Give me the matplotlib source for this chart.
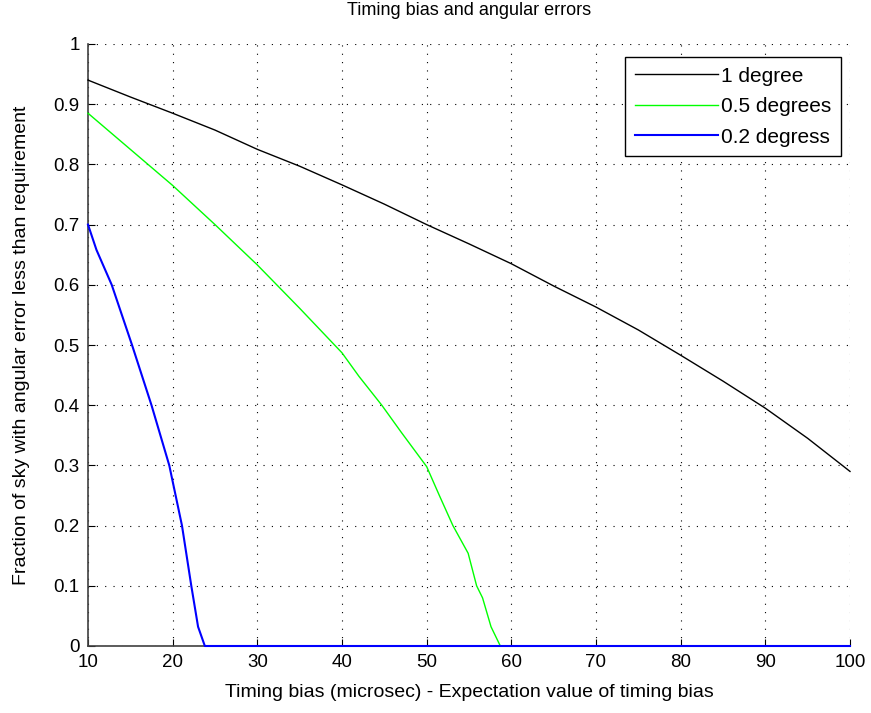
import matplotlib
matplotlib.use("Agg")
import matplotlib.pyplot as plt

plt.rcParams['font.family'] = ['Liberation Sans', 'DejaVu Sans']

# values
x_1deg = [10, 15, 20, 25, 30, 35, 40, 45, 50, 55, 60, 65, 70, 75, 80, 85, 90, 95, 100]
y_1deg = [0.94, 0.912, 0.885, 0.857, 0.825, 0.797, 0.766, 0.734, 0.70, 0.668,
          0.635, 0.598, 0.563, 0.525, 0.483, 0.44, 0.395, 0.345, 0.29]

x_05deg = [10, 15, 20, 25, 30, 35, 40, 42, 44.7, 47, 50, 51.5, 53.1, 54.9,
           55.9, 56.6, 57.6, 58.7, 100]
y_05deg = [0.885, 0.825, 0.765, 0.70, 0.633, 0.561, 0.487, 0.448, 0.40, 0.355,
           0.298, 0.25, 0.20, 0.154, 0.10, 0.08, 0.032, 0.0, 0.0]

x_02deg = [10, 11, 12.8, 15.2, 17.5, 19.6, 21.1, 22.2, 23.0, 23.8, 100]
y_02deg = [0.70, 0.658, 0.60, 0.50, 0.40, 0.30, 0.20, 0.10, 0.032, 0.0, 0.0]

labels = ['1 degree', '0.5 degrees', '0.2 degress']
xticks = list(range(10, 101, 10))
yticks = [i / 10 for i in range(11)]
ytick_labels = ['0', '0.1', '0.2', '0.3', '0.4', '0.5', '0.6', '0.7', '0.8', '0.9', '1']

fig = plt.figure(figsize=(8.71, 7.13), dpi=100)
ax = fig.add_axes([88 / 871, 1 - 646 / 713, 762 / 871, 602 / 713])

ax.plot(x_1deg, y_1deg, color='black', lw=1.0, label=labels[0], zorder=3, clip_on=False)
ax.plot(x_05deg, y_05deg, color='#00ff00', lw=1.0, label=labels[1], zorder=3, clip_on=False)
ax.plot(x_02deg, y_02deg, color='#0000ff', lw=1.5, label=labels[2], zorder=3, clip_on=False)

ax.set_xlim(10, 100)
ax.set_ylim(0, 1)
ax.set_xticks(xticks)
ax.set_yticks(yticks)
ax.set_yticklabels(ytick_labels)
ax.tick_params(direction='in', length=5, labelsize=13.5, colors='black')
ax.tick_params(axis='x', pad=6)
ax.tick_params(axis='y', pad=6)

ax.grid(True, color='black', linestyle=(0, (1, 6.5)), linewidth=0.8)
for side in ['top', 'right']:
    ax.spines[side].set_visible(False)
for side in ['left', 'bottom']:
    ax.spines[side].set_color('#404040')
    ax.spines[side].set_linewidth(1.2)
    ax.spines[side].set_zorder(2)

ax.set_title('Timing bias and angular errors', fontsize=13, pad=21)
ax.set_xlabel('Timing bias (microsec) - Expectation value of timing bias', fontsize=14, labelpad=9)
ax.set_ylabel('Fraction of sky with angular error less than requirement', fontsize=14, labelpad=17)

leg = ax.legend(loc='upper right', bbox_to_anchor=(0.988, 0.978), fontsize=15,
                fancybox=False, framealpha=1, edgecolor='black', handlelength=4.0,
                handletextpad=0.15, borderpad=0.45, labelspacing=0.55, borderaxespad=0)
leg.get_frame().set_linewidth(1.0)
leg.set_zorder(5)

fig.savefig('out.png', dpi=100)
